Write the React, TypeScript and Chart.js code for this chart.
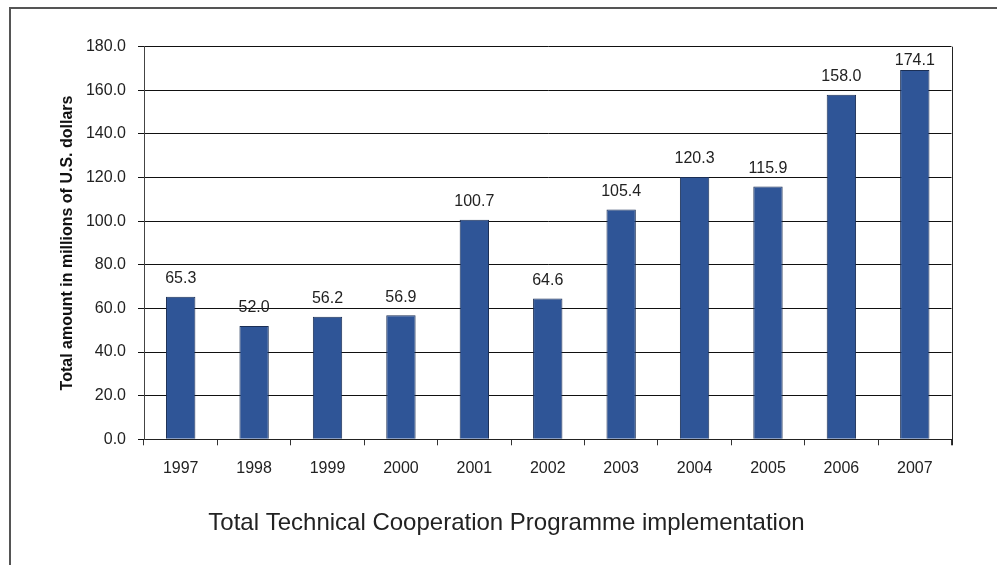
import React, { useEffect, useRef } from "react";
import { Chart, registerables } from "chart.js";

Chart.register(...registerables);

const years = ["1997", "1998", "1999", "2000", "2001", "2002", "2003", "2004", "2005", "2006", "2007"];
// Bar heights as drawn in the picture
const barValues = [65.3, 52.0, 56.2, 56.9, 100.7, 64.6, 105.4, 120.3, 115.9, 158.0, 169.3];
// Value labels printed above bars
const valueLabels = ["65.3", "52.0", "56.2", "56.9", "100.7", "64.6", "105.4", "120.3", "115.9", "158.0", "174.1"];
const yTitle = "Total amount in millions of U.S. dollars";
const chartTitle = "Total Technical Cooperation Programme implementation";

const FONT = '"Liberation Sans", Arial, Helvetica, sans-serif';

export default function App() {
  const ref = useRef<HTMLCanvasElement | null>(null);

  useEffect(() => {
    document.body.style.margin = "0";
    const canvas = ref.current;
    if (!canvas) return;

    const decor = {
      id: "decor",
      beforeDraw(chart: any) {
        const ctx = chart.ctx;
        ctx.save();
        ctx.fillStyle = "#ffffff";
        ctx.fillRect(0, 0, chart.width, chart.height);
        ctx.strokeStyle = "#555555";
        ctx.lineWidth = 2;
        ctx.beginPath();
        ctx.moveTo(10, 565);
        ctx.lineTo(10, 8);
        ctx.lineTo(997, 8);
        ctx.stroke();
        ctx.restore();
      },
      afterDatasetsDraw(chart: any) {
        const ctx = chart.ctx;
        const area = chart.chartArea;
        const ys = chart.scales.y;
        const meta = chart.getDatasetMeta(0);
        ctx.save();
        // plot right border
        ctx.strokeStyle = "#222222";
        ctx.lineWidth = 1;
        ctx.beginPath();
        ctx.moveTo(Math.round(area.right) + 0.5, area.top);
        ctx.lineTo(Math.round(area.right) + 0.5, area.bottom + 6);
        ctx.stroke();
        // value labels
        ctx.fillStyle = "#222222";
        ctx.font = `16px ${FONT}`;
        ctx.textAlign = "center";
        ctx.textBaseline = "middle";
        meta.data.forEach((bar: any, i: number) => {
          let y = ys.getPixelForValue(parseFloat(valueLabels[i])) - 18;
          y = Math.max(y, area.top + 14);
          ctx.fillText(valueLabels[i], bar.x, y);
        });
        // bottom title
        ctx.font = `24px ${FONT}`;
        ctx.fillText(chartTitle, 506.5, 523);
        ctx.restore();
      },
    };

    const chart = new Chart(canvas, {
      type: "bar",
      data: {
        labels: years,
        datasets: [
          {
            data: barValues,
            backgroundColor: "#2F5597",
            borderColor: "#1B2F55",
            borderWidth: 1,
            categoryPercentage: 1,
            barPercentage: 0.4,
          },
        ],
      },
      options: {
        responsive: false,
        animation: false,
        layout: { padding: { top: 46.7, right: 45.5, left: 0, bottom: 0 } },
        plugins: {
          legend: { display: false },
          tooltip: { enabled: false },
          title: { display: false },
        },
        scales: {
          x: {
            afterFit(scale: any) {
              scale.height = 125.7;
            },
            grid: {
              drawOnChartArea: false,
              drawTicks: true,
              tickLength: 6,
              color: "#333333",
              offset: true,
            },
            border: { color: "#222222", width: 1 },
            ticks: {
              color: "#222222",
              font: { family: FONT, size: 16 },
              padding: 14,
              maxRotation: 0,
            },
          },
          y: {
            min: 0,
            max: 180,
            afterFit(scale: any) {
              scale.width = 144;
            },
            grid: {
              color: "#111111",
              lineWidth: 1,
              tickLength: 6,
              drawTicks: true,
            },
            border: { color: "#444444", width: 1 },
            ticks: {
              stepSize: 20,
              color: "#222222",
              font: { family: FONT, size: 16 },
              padding: 12,
              callback: (v: any) => Number(v).toFixed(1),
            },
            title: {
              display: true,
              text: yTitle,
              color: "#111111",
              font: { family: FONT, size: 16, weight: "bold" },
              padding: { top: 58.4, bottom: 0 },
            },
          },
        },
      },
      plugins: [decor],
    });

    return () => chart.destroy();
  }, []);

  return (
    <div style={{ position: "relative", width: 997, height: 565 }}>
      <canvas ref={ref} width={997} height={565} style={{ position: "absolute", left: 0, top: 0 }} />
    </div>
  );
}
